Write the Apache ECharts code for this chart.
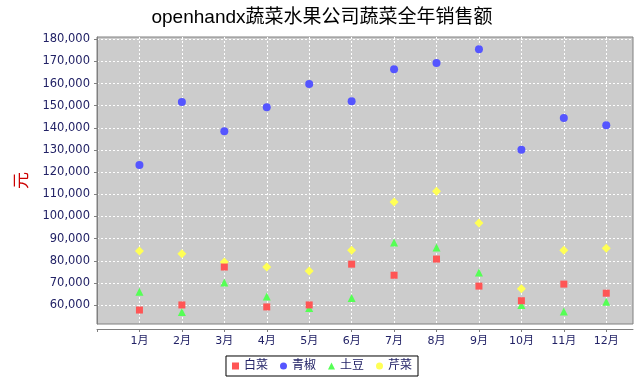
<!DOCTYPE html>
<html>
<head>
<meta charset="utf-8">
<script src="https://cdn.jsdelivr.net/npm/echarts@6/dist/echarts.min.js"></script>
<style>html,body{margin:0;padding:0;background:#fff;}#c{width:644px;height:379px;}</style>
</head>
<body>
<div id="c"></div>
<script>
var titleText = 'openhandx蔬菜水果公司蔬菜全年销售额';
var yName = '元';
var months = ['1月','2月','3月','4月','5月','6月','7月','8月','9月','10月','11月','12月'];
var seriesNames = ['白菜','青椒','土豆','芹菜'];
var baicai   = [57800, 60100, 77200, 59200, 60100, 78500, 73500, 80800, 68600, 62000, 69500, 65400];
var qingjiao = [123300, 151700, 138500, 149300, 159800, 152000, 166500, 169300, 175500, 130100, 144400, 141200];
var tudou    = [66000, 56900, 70200, 63900, 58700, 63200, 88300, 86000, 74700, 60100, 57100, 61500];
var qincai   = [84400, 83200, 79500, 77200, 75400, 84800, 106500, 111400, 97100, 67400, 84800, 85700];
var yTicks = [60000,70000,80000,90000,100000,110000,120000,130000,140000,150000,160000,170000,180000];
var xTicks = [0,1,2,3,4,5,6,7,8,9,10,11,12];

var colors = ['#FF5555','#5555FF','#55FF55','#FFFF55'];
var symbols = ['rect','circle','triangle','diamond'];
var sizes = [7, 8, 8, 9];
var values = [baicai, qingjiao, tudou, qincai];
var navy = '#222266';
var font = "'DejaVu Sans','Noto Sans CJK SC',sans-serif";

var chart = echarts.init(document.getElementById('c'), null, {renderer:'canvas'});
var series = seriesNames.map(function(n, i){
  return {
    name: n, type: 'scatter',
    symbol: symbols[i], symbolSize: sizes[i],
    z: 10 - i,
    itemStyle: {color: colors[i], opacity: 1},
    data: values[i].map(function(v, k){ return [k + 1, v]; }),
    emphasis: {disabled: true}
  };
});

chart.setOption({
  animation: false,
  backgroundColor: '#fff',
  title: {
    text: titleText, left: 'center', top: 3,
    textStyle: {fontSize: 19, fontWeight: 'normal', color: '#000', fontFamily: "'Liberation Sans','Noto Sans CJK SC',sans-serif"}
  },
  grid: {
    left: 97, right: 11, top: 37, bottom: 55,
    show: true, backgroundColor: '#CCCCCC', borderColor: '#808080', borderWidth: 1
  },
  legend: {
    left: 'center', bottom: 3,
    data: seriesNames.map(function(n, i){ return {name: n, icon: symbols[i] === 'diamond' ? 'circle' : symbols[i]}; }),
    itemWidth: 7, itemHeight: 7, itemGap: 12,
    borderColor: '#000', borderWidth: 1, padding: [4, 6],
    textStyle: {fontSize: 12, color: navy, fontFamily: font}
  },
  xAxis: {
    type: 'value', min: 0, max: 12.63, interval: 1,
    offset: 5,
    axisLine: {show: true, onZero: false, lineStyle: {color: '#808080'}},
    axisTick: {show: true, length: 3, lineStyle: {color: '#808080'}, customValues: xTicks},
    axisLabel: {
      color: navy, fontSize: 11, fontFamily: font, margin: 7,
      customValues: xTicks.slice(1),
      formatter: function(v){ return months[Math.round(v) - 1] || ''; }
    },
    splitLine: {show: true, lineStyle: {color: '#ffffff', type: [2, 2], width: 1}}
  },
  yAxis: {
    type: 'value', min: 51500, max: 181000, splitNumber: 13,
    offset: 3,
    name: yName, nameLocation: 'middle', nameGap: 63, nameRotate: 90,
    nameTextStyle: {color: '#CC0000', fontSize: 17, fontFamily: font},
    axisLine: {show: true, lineStyle: {color: '#808080'}},
    axisTick: {show: true, length: 3, lineStyle: {color: '#808080'}, customValues: yTicks},
    axisLabel: {
      color: navy, fontSize: 11.5, fontFamily: font, margin: 4,
      customValues: yTicks,
      formatter: function(v){ return v.toLocaleString('en-US'); }
    },
    splitLine: {show: true, lineStyle: {color: '#ffffff', type: [2, 2], width: 1}}
  },
  series: series
});
</script>
</body>
</html>
